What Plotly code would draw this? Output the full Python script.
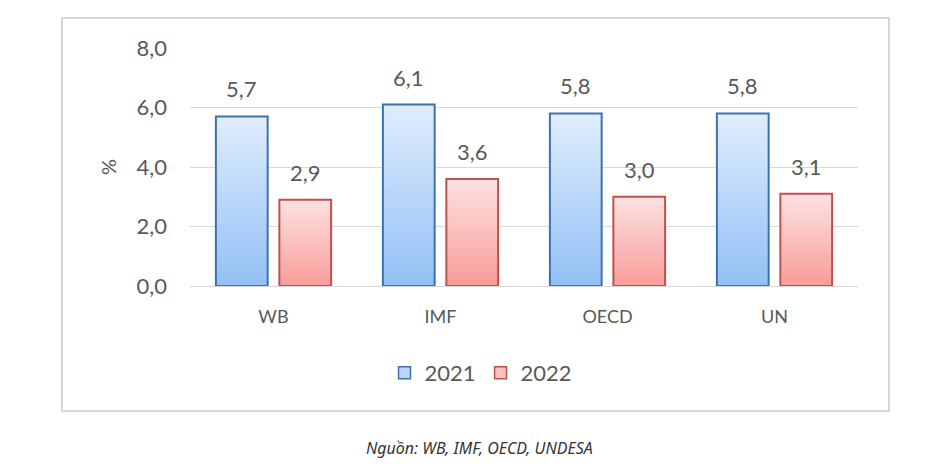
import plotly.graph_objects as go

categories = ["WB", "IMF", "OECD", "UN"]
series_names = ["2021", "2022"]
values_2021 = [5.7, 6.1, 5.8, 5.8]
values_2022 = [2.9, 3.6, 3.0, 3.1]
y_ticks = [0, 2, 4, 6, 8]

W, H = 950, 470
OFF = 8  # page body margin
# target plot area in screenshot pixels: x 190..858, y 48..286
L, T = 190 - OFF, 48 - OFF
R = W - (858 - OFF)
B = H - (286 - OFF)
PW, PH = W - L - R, H - T - B

styles = [
    dict(offset=-0.19, line="#3d72b0", dark="#93c0f6", light="#e0edfc", legend="#b9d6f8"),
    dict(offset=0.19, line="#c0504d", dark="#f89c9a", light="#fde2e1", legend="#fbc0bf"),
]
BAR_W = 0.31
TXT = "#595959"
FONT = "Lato, 'Noto Sans', sans-serif"

fig = go.Figure()
annotations = []

for name, vals, st in zip(series_names, [values_2021, values_2022], styles):
    for i, v in enumerate(vals):
        xc = i + st["offset"]
        x0, x1 = xc - BAR_W / 2, xc + BAR_W / 2
        fig.add_trace(go.Scatter(
            x=[x0, x0, x1, x1, x0], y=[0, v, v, 0, 0],
            mode="lines", fill="toself",
            fillgradient=dict(type="vertical", start=0, stop=v,
                              colorscale=[[0, st["dark"]], [1, st["light"]]]),
            line=dict(color=st["line"], width=2),
            showlegend=False, hoverinfo="skip",
        ))
        annotations.append(dict(
            x=xc, y=v, xref="x", yref="y", text=f"{v:.1f}".replace(".", ","),
            showarrow=False, yanchor="bottom", yshift=12,
            font=dict(family=FONT, size=22, color=TXT),
        ))
    # legend entry
    fig.add_trace(go.Bar(
        x=[0], y=[None], name=name,
        marker=dict(color=st["legend"], line=dict(color=st["line"], width=1.5)),
        showlegend=True, hoverinfo="skip",
    ))

def px_x(p):
    return (p - OFF - L) / PW

def px_y(p):
    return (H - B - (p - OFF)) / PH

shapes = [dict(type="rect", xref="paper", yref="paper",
               x0=px_x(62), x1=px_x(889), y0=px_y(411), y1=px_y(18),
               line=dict(color="#d6d6d6", width=2), fillcolor="rgba(0,0,0,0)", layer="below")]

annotations.append(dict(
    xref="paper", yref="paper", x=px_x(479), y=px_y(448),
    text="<i>Nguồn: WB, IMF, OECD, UNDESA</i>", showarrow=False,
    xanchor="center", yanchor="middle",
    font=dict(family="'Noto Sans', 'Open Sans', sans-serif", size=16, color="#333333"),
))

fig.update_layout(
    width=W, height=H,
    margin=dict(l=L, r=R, t=T, b=B),
    paper_bgcolor="white", plot_bgcolor="white",
    separators=", ",
    font=dict(family=FONT, color=TXT),
    xaxis=dict(
        range=[-0.5, 3.5], tickvals=list(range(len(categories))), ticktext=categories,
        showgrid=False, zeroline=False, showline=False, ticks="",
        tickfont=dict(family=FONT, size=18, color=TXT), ticklabelstandoff=18,
        fixedrange=True,
    ),
    yaxis=dict(
        range=[0, 8], tickvals=y_ticks, tickformat=".1f",
        showgrid=True, gridcolor="#d9d9d9", gridwidth=1,
        zeroline=True, zerolinecolor="#d9d9d9", zerolinewidth=1,
        showline=False, ticks="",
        tickfont=dict(family=FONT, size=22, color=TXT), ticklabelstandoff=22,
        title=dict(text="%", font=dict(family=FONT, size=20, color=TXT), standoff=14),
        fixedrange=True,
    ),
    legend=dict(
        orientation="h", x=px_x(481), y=px_y(373), xanchor="center", yanchor="middle",
        font=dict(family=FONT, size=22, color=TXT), itemwidth=30,
        bgcolor="rgba(0,0,0,0)", tracegroupgap=0,
    ),
    shapes=shapes,
    annotations=annotations,
    showlegend=True,
)

fig.write_html("out.html")
